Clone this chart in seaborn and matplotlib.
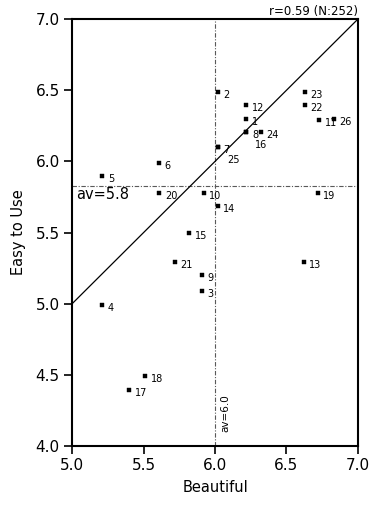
import matplotlib
matplotlib.use("Agg")
import matplotlib.pyplot as plt
import seaborn as sns
import pandas as pd

# ---- data ----
ids = [str(i) for i in range(1, 27)]
beautiful = [6.22, 6.02, 5.91, 5.21, 5.21, 5.61, 6.02, 6.22, 5.91, 5.92,
             6.73, 6.22, 6.62, 6.02, 5.82, 6.22, 5.40, 5.51, 6.72, 5.61,
             5.72, 6.63, 6.63, 6.32, 6.02, 6.83]
easy = [6.30, 6.49, 5.09, 4.99, 5.90, 5.99, 6.10, 6.21, 5.20, 5.78,
        6.29, 6.40, 5.29, 5.69, 5.50, 6.21, 4.39, 4.49, 5.78, 5.78,
        5.29, 6.40, 6.49, 6.21, 6.10, 6.30]
diag_x = [5.0, 7.0]
diag_y = [5.0, 7.0]
avg_beautiful = 6.0
avg_easy = 5.83
ticks = [5.0, 5.5, 6.0, 6.5, 7.0]
yticks = [4.0, 4.5, 5.0, 5.5, 6.0, 6.5, 7.0]
title = "r=0.59 (N:252)"

# label offsets (style): hidden points have their label placed below
offsets = {"16": (6.5, -9.5), "25": (6.5, -9.5)}

df = pd.DataFrame({"id": ids, "Beautiful": beautiful, "Easy to Use": easy})

sns.set_style("ticks")
plt.rcParams["font.family"] = ["DejaVu Sans"]
plt.rcParams.update({
    "text.color": "black", "axes.labelcolor": "black",
    "xtick.color": "black", "ytick.color": "black",
    "axes.edgecolor": "black",
})

fig = plt.figure(figsize=(3.86, 5.05), dpi=100)
ax = fig.add_axes([0.187, 0.117, 0.740, 0.845])

sns.scatterplot(data=df, x="Beautiful", y="Easy to Use", marker="s",
                s=9, color="black", edgecolor="black", linewidth=0.3,
                ax=ax, zorder=4)

ax.plot(diag_x, diag_y, color="black", lw=0.9, zorder=2)
ax.axhline(avg_easy, color="0.35", lw=0.8, ls=(0, (4, 1.5, 1, 1.5)), zorder=1)
ax.axvline(avg_beautiful, color="0.35", lw=0.8, ls=(0, (4, 1.5, 1, 1.5)), zorder=1)

for i, xv, yv in zip(ids, beautiful, easy):
    off = offsets.get(i, (4, -2.2))
    ax.annotate(i, (xv, yv), xytext=off, textcoords="offset points",
                ha="left", va="center", fontsize=7, zorder=5)

ax.text(5.03, 5.765, "av=5.8", fontsize=10.5, ha="left", va="center")
ax.text(6.07, 4.095, "av=6.0", fontsize=7.5, ha="center", va="bottom",
        rotation=90)

ax.set_xlim(5.0, 7.0)
ax.set_ylim(4.0, 7.0)
ax.set_xticks(ticks)
ax.set_yticks(yticks)
ax.set_xticklabels([f"{t:.1f}" for t in ticks], fontsize=11)
ax.set_yticklabels([f"{t:.1f}" for t in yticks], fontsize=11)
ax.tick_params(direction="out", length=6, width=1.2, pad=3, colors="black")
for sp in ax.spines.values():
    sp.set_linewidth(1.5)
    sp.set_color("black")
    sp.set_visible(True)

ax.set_xlabel("Beautiful", fontsize=10.5, labelpad=5)
ax.set_ylabel("Easy to Use", fontsize=10.5, labelpad=7)
ax.set_title(title, loc="right", fontsize=8.5, pad=3)

fig.savefig("out.png", dpi=100)
